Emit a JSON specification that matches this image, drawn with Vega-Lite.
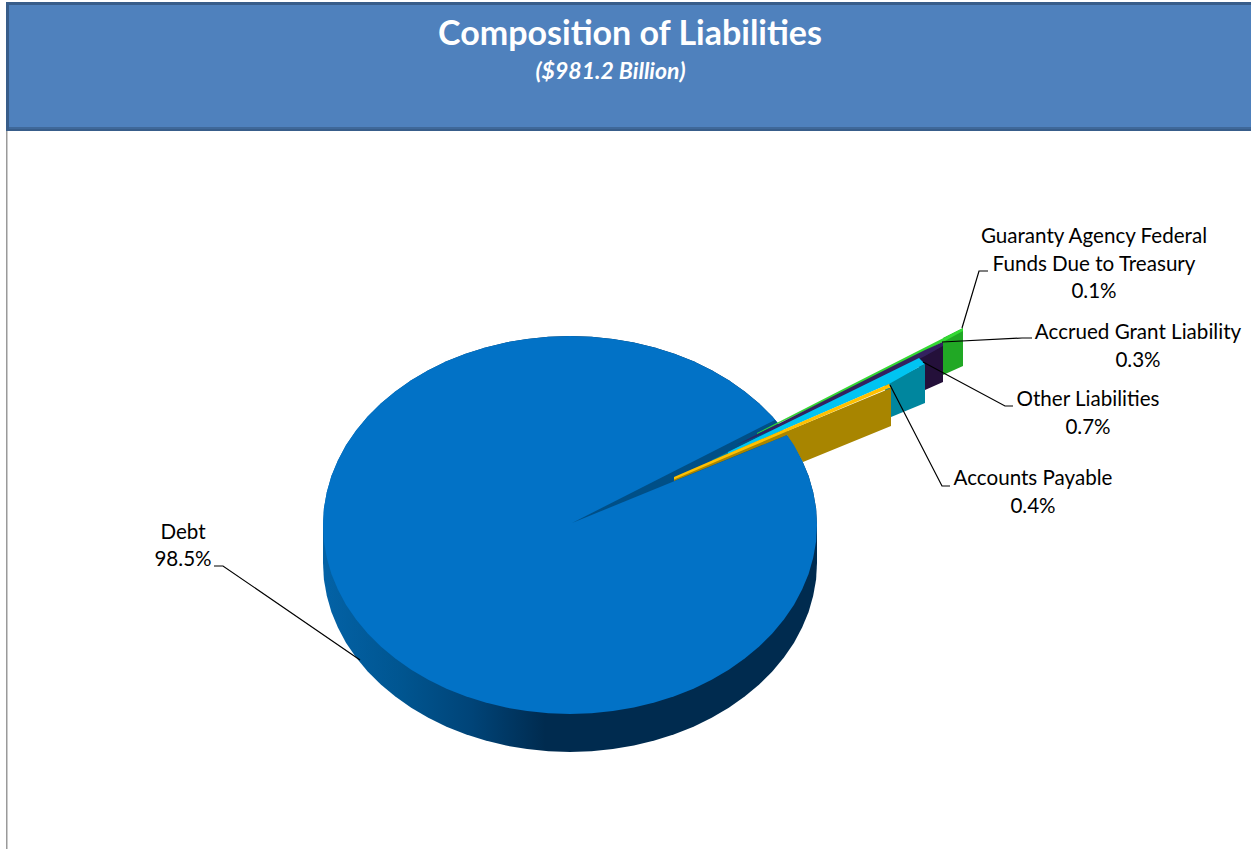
{
  "$schema": "https://vega.github.io/schema/vega-lite/v6.json",
  "width": 1251,
  "height": 849,
  "padding": 0,
  "autosize": {"type": "fit", "contains": "padding"},
  "background": "#ffffff",
  "view": {"stroke": null},
  "datasets": {
    "panels": [
      {"part": "frame", "x": 6, "x2": 1251, "y": 2, "y2": 131},
      {"part": "sill", "x": 9, "x2": 1251, "y": 127, "y2": 129},
      {"part": "banner", "x": 9, "x2": 1251, "y": 5, "y2": 127},
      {"part": "edge", "x": 6, "x2": 7.5, "y": 131, "y2": 849}
    ],
    "disc": [
      {"x": 323, "upper": 525, "lower": 525, "rim": 563},
      {"x": 323.9, "upper": 508.5, "lower": 541.5, "rim": 579.5},
      {"x": 326.8, "upper": 492.2, "lower": 557.8, "rim": 595.8},
      {"x": 331.4, "upper": 476.1, "lower": 573.9, "rim": 611.9},
      {"x": 337.9, "upper": 460.4, "lower": 589.6, "rim": 627.6},
      {"x": 346.1, "upper": 445.1, "lower": 604.9, "rim": 642.9},
      {"x": 356.1, "upper": 430.5, "lower": 619.5, "rim": 657.5},
      {"x": 367.7, "upper": 416.6, "lower": 633.4, "rim": 671.4},
      {"x": 380.8, "upper": 403.5, "lower": 646.5, "rim": 684.5},
      {"x": 395.3, "upper": 391.4, "lower": 658.6, "rim": 696.6},
      {"x": 411.2, "upper": 380.2, "lower": 669.8, "rim": 707.8},
      {"x": 428.3, "upper": 370.2, "lower": 679.8, "rim": 717.8},
      {"x": 446.5, "upper": 361.3, "lower": 688.7, "rim": 726.7},
      {"x": 465.6, "upper": 353.7, "lower": 696.3, "rim": 734.3},
      {"x": 485.5, "upper": 347.4, "lower": 702.6, "rim": 740.6},
      {"x": 506.1, "upper": 342.4, "lower": 707.6, "rim": 745.6},
      {"x": 527.1, "upper": 338.9, "lower": 711.1, "rim": 749.1},
      {"x": 548.5, "upper": 336.7, "lower": 713.3, "rim": 751.3},
      {"x": 570, "upper": 336, "lower": 714, "rim": 752},
      {"x": 591.5, "upper": 336.7, "lower": 713.3, "rim": 751.3},
      {"x": 612.9, "upper": 338.9, "lower": 711.1, "rim": 749.1},
      {"x": 633.9, "upper": 342.4, "lower": 707.6, "rim": 745.6},
      {"x": 654.5, "upper": 347.4, "lower": 702.6, "rim": 740.6},
      {"x": 674.4, "upper": 353.7, "lower": 696.3, "rim": 734.3},
      {"x": 693.5, "upper": 361.3, "lower": 688.7, "rim": 726.7},
      {"x": 711.7, "upper": 370.2, "lower": 679.8, "rim": 717.8},
      {"x": 728.8, "upper": 380.2, "lower": 669.8, "rim": 707.8},
      {"x": 744.7, "upper": 391.4, "lower": 658.6, "rim": 696.6},
      {"x": 759.2, "upper": 403.5, "lower": 646.5, "rim": 684.5},
      {"x": 772.3, "upper": 416.6, "lower": 633.4, "rim": 671.4},
      {"x": 783.9, "upper": 430.5, "lower": 619.5, "rim": 657.5},
      {"x": 793.9, "upper": 445.1, "lower": 604.9, "rim": 642.9},
      {"x": 802.1, "upper": 460.4, "lower": 589.6, "rim": 627.6},
      {"x": 808.6, "upper": 476.1, "lower": 573.9, "rim": 611.9},
      {"x": 813.2, "upper": 492.2, "lower": 557.8, "rim": 595.8},
      {"x": 816.1, "upper": 508.5, "lower": 541.5, "rim": 579.5},
      {"x": 817, "upper": 525, "lower": 525, "rim": 563}
    ],
    "slices": [
      {"part": "Guaranty wall", "x": 943, "upper": 338, "lower": 375},
      {"part": "Guaranty wall", "x": 963, "upper": 328, "lower": 366},
      {"part": "Accrued wall", "x": 919, "upper": 354, "lower": 393},
      {"part": "Accrued wall", "x": 925, "upper": 351, "lower": 390},
      {"part": "Accrued wall", "x": 943, "upper": 342, "lower": 382},
      {"part": "Other wall", "x": 885, "upper": 384, "lower": 419.5},
      {"part": "Other wall", "x": 925, "upper": 364, "lower": 403},
      {"part": "Payable wall", "x": 787, "upper": 431, "lower": 435},
      {"part": "Payable wall", "x": 803, "upper": 424.4, "lower": 462},
      {"part": "Payable wall", "x": 891, "upper": 388, "lower": 426},
      {"part": "Guaranty top", "x": 757, "upper": 433, "lower": 434},
      {"part": "Guaranty top", "x": 850, "upper": 385.6, "lower": 389},
      {"part": "Guaranty top", "x": 943, "upper": 338.2, "lower": 342},
      {"part": "Guaranty top", "x": 963, "upper": 328, "lower": 331},
      {"part": "Accrued top", "x": 736, "upper": 445, "lower": 445},
      {"part": "Accrued top", "x": 787, "upper": 419.4, "lower": 424},
      {"part": "Accrued top", "x": 889, "upper": 368.1, "lower": 374},
      {"part": "Accrued top", "x": 925, "upper": 350, "lower": 356},
      {"part": "Accrued top", "x": 943, "upper": 342, "lower": 346},
      {"part": "Other tip", "x": 712, "upper": 460, "lower": 461},
      {"part": "Other tip", "x": 760, "upper": 436.3, "lower": 440.5},
      {"part": "Other top", "x": 728, "upper": 452.1, "lower": 454},
      {"part": "Other top", "x": 889, "upper": 372.8, "lower": 384},
      {"part": "Other top", "x": 919, "upper": 358, "lower": 367},
      {"part": "Other top", "x": 925, "upper": 364, "lower": 364},
      {"part": "Payable sliver", "x": 674, "upper": 478, "lower": 481},
      {"part": "Payable sliver", "x": 787, "upper": 430, "lower": 435},
      {"part": "Payable top", "x": 674, "upper": 477, "lower": 479.5},
      {"part": "Payable top", "x": 889, "upper": 384, "lower": 388},
      {"part": "Payable top", "x": 891, "upper": 388, "lower": 388}
    ],
    "gap": [
      {"x": 572, "upper": 523, "lower": 523},
      {"x": 775, "upper": 420, "lower": 440},
      {"x": 787, "upper": 435, "lower": 435}
    ],
    "leaders": [
      {"category": "Debt", "step": 1, "x": 214, "y": 566},
      {"category": "Debt", "step": 2, "x": 223, "y": 566},
      {"category": "Debt", "step": 3, "x": 360, "y": 660},
      {"category": "Guaranty", "step": 1, "x": 988, "y": 271},
      {"category": "Guaranty", "step": 2, "x": 979, "y": 271},
      {"category": "Guaranty", "step": 3, "x": 962, "y": 328},
      {"category": "Accrued", "step": 1, "x": 1032, "y": 338},
      {"category": "Accrued", "step": 2, "x": 1022, "y": 338},
      {"category": "Accrued", "step": 3, "x": 942, "y": 342},
      {"category": "Other", "step": 1, "x": 1013, "y": 406},
      {"category": "Other", "step": 2, "x": 1005, "y": 406},
      {"category": "Other", "step": 3, "x": 923, "y": 362},
      {"category": "Payable", "step": 1, "x": 950, "y": 486},
      {"category": "Payable", "step": 2, "x": 942, "y": 486},
      {"category": "Payable", "step": 3, "x": 890, "y": 385}
    ],
    "labels": [
      {"text": "Guaranty Agency Federal", "x": 1094, "y": 237},
      {"text": "Funds Due to Treasury", "x": 1094, "y": 265},
      {"text": "0.1%", "x": 1094, "y": 292},
      {"text": "Accrued Grant Liability", "x": 1138, "y": 333},
      {"text": "0.3%", "x": 1138, "y": 361},
      {"text": "Other Liabilities", "x": 1088, "y": 400},
      {"text": "0.7%", "x": 1088, "y": 428},
      {"text": "Accounts Payable", "x": 1033, "y": 479},
      {"text": "0.4%", "x": 1033, "y": 507},
      {"text": "Debt", "x": 183, "y": 533},
      {"text": "98.5%", "x": 183, "y": 560}
    ],
    "heading": [{"text": "Composition of Liabilities", "x": 630, "y": 35}],
    "subheading": [{"text": "($981.2 Billion)", "x": 610.5, "y": 72}]
  },
  "layer": [
    {
      "data": {"name": "panels"},
      "mark": {"type": "rect"},
      "encoding": {
        "x": {"field": "x", "type": "quantitative", "scale": {"domain": [0, 1251], "nice": false, "zero": false}, "axis": null},
        "x2": {"field": "x2"},
        "y": {"field": "y", "type": "quantitative", "scale": {"domain": [849, 0], "nice": false, "zero": false}, "axis": null},
        "y2": {"field": "y2"},
        "color": {"field": "part", "type": "nominal", "legend": null, "sort": null,
          "scale": {"domain": ["frame", "sill", "banner", "edge"], "range": ["#385d8a", "#3f6899", "#4f81bd", "#9a9a9a"]}}
      }
    },
    {
      "data": {"name": "disc"},
      "mark": {"type": "area", "orient": "vertical",
        "color": {"gradient": "linear", "x1": 0, "x2": 1, "y1": 0, "y2": 0,
          "stops": [
            {"offset": 0, "color": "#0362a6"},
            {"offset": 0.16, "color": "#005590"},
            {"offset": 0.3, "color": "#004478"},
            {"offset": 0.45, "color": "#002b4f"},
            {"offset": 1, "color": "#002b4f"}
          ]}},
      "encoding": {
        "x": {"field": "x", "type": "quantitative", "scale": {"domain": [0, 1251], "nice": false, "zero": false}, "axis": null},
        "y": {"field": "upper", "type": "quantitative", "stack": null, "scale": {"domain": [849, 0], "nice": false, "zero": false}, "axis": null},
        "y2": {"field": "rim"}
      }
    },
    {
      "data": {"name": "slices"},
      "transform": [{"filter": "datum.part === 'Guaranty wall'"}],
      "mark": {"type": "area", "orient": "vertical", "color": "#21a825"},
      "encoding": {
        "x": {"field": "x", "type": "quantitative", "scale": {"domain": [0, 1251], "nice": false, "zero": false}, "axis": null},
        "y": {"field": "upper", "type": "quantitative", "stack": null, "scale": {"domain": [849, 0], "nice": false, "zero": false}, "axis": null},
        "y2": {"field": "lower"}
      }
    },
    {
      "data": {"name": "slices"},
      "transform": [{"filter": "datum.part === 'Accrued wall'"}],
      "mark": {"type": "area", "orient": "vertical", "color": "#24103a"},
      "encoding": {
        "x": {"field": "x", "type": "quantitative", "scale": {"domain": [0, 1251], "nice": false, "zero": false}, "axis": null},
        "y": {"field": "upper", "type": "quantitative", "stack": null, "scale": {"domain": [849, 0], "nice": false, "zero": false}, "axis": null},
        "y2": {"field": "lower"}
      }
    },
    {
      "data": {"name": "slices"},
      "transform": [{"filter": "datum.part === 'Other wall'"}],
      "mark": {"type": "area", "orient": "vertical", "color": "#00869e"},
      "encoding": {
        "x": {"field": "x", "type": "quantitative", "scale": {"domain": [0, 1251], "nice": false, "zero": false}, "axis": null},
        "y": {"field": "upper", "type": "quantitative", "stack": null, "scale": {"domain": [849, 0], "nice": false, "zero": false}, "axis": null},
        "y2": {"field": "lower"}
      }
    },
    {
      "data": {"name": "slices"},
      "transform": [{"filter": "datum.part === 'Payable wall'"}],
      "mark": {"type": "area", "orient": "vertical", "color": "#a88500"},
      "encoding": {
        "x": {"field": "x", "type": "quantitative", "scale": {"domain": [0, 1251], "nice": false, "zero": false}, "axis": null},
        "y": {"field": "upper", "type": "quantitative", "stack": null, "scale": {"domain": [849, 0], "nice": false, "zero": false}, "axis": null},
        "y2": {"field": "lower"}
      }
    },
    {
      "data": {"name": "disc"},
      "mark": {"type": "area", "orient": "vertical", "color": "#0272c6"},
      "encoding": {
        "x": {"field": "x", "type": "quantitative", "scale": {"domain": [0, 1251], "nice": false, "zero": false}, "axis": null},
        "y": {"field": "upper", "type": "quantitative", "stack": null, "scale": {"domain": [849, 0], "nice": false, "zero": false}, "axis": null},
        "y2": {"field": "lower"}
      }
    },
    {
      "data": {"name": "gap"},
      "mark": {"type": "area", "orient": "vertical", "color": "#004f87"},
      "encoding": {
        "x": {"field": "x", "type": "quantitative", "scale": {"domain": [0, 1251], "nice": false, "zero": false}, "axis": null},
        "y": {"field": "upper", "type": "quantitative", "stack": null, "scale": {"domain": [849, 0], "nice": false, "zero": false}, "axis": null},
        "y2": {"field": "lower"}
      }
    },
    {
      "data": {"name": "slices"},
      "transform": [{"filter": "datum.part === 'Guaranty top'"}],
      "mark": {"type": "area", "orient": "vertical", "color": "#33d933"},
      "encoding": {
        "x": {"field": "x", "type": "quantitative", "scale": {"domain": [0, 1251], "nice": false, "zero": false}, "axis": null},
        "y": {"field": "upper", "type": "quantitative", "stack": null, "scale": {"domain": [849, 0], "nice": false, "zero": false}, "axis": null},
        "y2": {"field": "lower"}
      }
    },
    {
      "data": {"name": "slices"},
      "transform": [{"filter": "datum.part === 'Accrued top'"}],
      "mark": {"type": "area", "orient": "vertical", "color": "#33215f"},
      "encoding": {
        "x": {"field": "x", "type": "quantitative", "scale": {"domain": [0, 1251], "nice": false, "zero": false}, "axis": null},
        "y": {"field": "upper", "type": "quantitative", "stack": null, "scale": {"domain": [849, 0], "nice": false, "zero": false}, "axis": null},
        "y2": {"field": "lower"}
      }
    },
    {
      "data": {"name": "slices"},
      "transform": [{"filter": "datum.part === 'Other tip'"}],
      "mark": {"type": "area", "orient": "vertical", "color": "#00869e"},
      "encoding": {
        "x": {"field": "x", "type": "quantitative", "scale": {"domain": [0, 1251], "nice": false, "zero": false}, "axis": null},
        "y": {"field": "upper", "type": "quantitative", "stack": null, "scale": {"domain": [849, 0], "nice": false, "zero": false}, "axis": null},
        "y2": {"field": "lower"}
      }
    },
    {
      "data": {"name": "slices"},
      "transform": [{"filter": "datum.part === 'Other top'"}],
      "mark": {"type": "area", "orient": "vertical", "color": "#00c4f2"},
      "encoding": {
        "x": {"field": "x", "type": "quantitative", "scale": {"domain": [0, 1251], "nice": false, "zero": false}, "axis": null},
        "y": {"field": "upper", "type": "quantitative", "stack": null, "scale": {"domain": [849, 0], "nice": false, "zero": false}, "axis": null},
        "y2": {"field": "lower"}
      }
    },
    {
      "data": {"name": "slices"},
      "transform": [{"filter": "datum.part === 'Payable sliver'"}],
      "mark": {"type": "area", "orient": "vertical", "color": "#a88500"},
      "encoding": {
        "x": {"field": "x", "type": "quantitative", "scale": {"domain": [0, 1251], "nice": false, "zero": false}, "axis": null},
        "y": {"field": "upper", "type": "quantitative", "stack": null, "scale": {"domain": [849, 0], "nice": false, "zero": false}, "axis": null},
        "y2": {"field": "lower"}
      }
    },
    {
      "data": {"name": "slices"},
      "transform": [{"filter": "datum.part === 'Payable top'"}],
      "mark": {"type": "area", "orient": "vertical", "color": "#ffc000"},
      "encoding": {
        "x": {"field": "x", "type": "quantitative", "scale": {"domain": [0, 1251], "nice": false, "zero": false}, "axis": null},
        "y": {"field": "upper", "type": "quantitative", "stack": null, "scale": {"domain": [849, 0], "nice": false, "zero": false}, "axis": null},
        "y2": {"field": "lower"}
      }
    },
    {
      "data": {"name": "leaders"},
      "mark": {"type": "line", "color": "#000000", "strokeWidth": 1.2},
      "encoding": {
        "x": {"field": "x", "type": "quantitative", "scale": {"domain": [0, 1251], "nice": false, "zero": false}, "axis": null},
        "y": {"field": "y", "type": "quantitative", "scale": {"domain": [849, 0], "nice": false, "zero": false}, "axis": null},
        "detail": {"field": "category"},
        "order": {"field": "step", "type": "quantitative"}
      }
    },
    {
      "data": {"name": "labels"},
      "mark": {"type": "text", "font": "Lato", "fontSize": 20.6, "color": "#000000", "align": "center", "baseline": "middle"},
      "encoding": {
        "x": {"field": "x", "type": "quantitative", "scale": {"domain": [0, 1251], "nice": false, "zero": false}, "axis": null},
        "y": {"field": "y", "type": "quantitative", "scale": {"domain": [849, 0], "nice": false, "zero": false}, "axis": null},
        "text": {"field": "text"}
      }
    },
    {
      "data": {"name": "heading"},
      "mark": {"type": "text", "font": "Lato", "fontSize": 34, "fontWeight": "bold", "color": "#ffffff", "align": "center", "baseline": "middle"},
      "encoding": {
        "x": {"field": "x", "type": "quantitative", "scale": {"domain": [0, 1251], "nice": false, "zero": false}, "axis": null},
        "y": {"field": "y", "type": "quantitative", "scale": {"domain": [849, 0], "nice": false, "zero": false}, "axis": null},
        "text": {"field": "text"}
      }
    },
    {
      "data": {"name": "subheading"},
      "mark": {"type": "text", "font": "Lato", "fontSize": 23, "fontWeight": "bold", "fontStyle": "italic", "color": "#ffffff", "align": "center", "baseline": "middle"},
      "encoding": {
        "x": {"field": "x", "type": "quantitative", "scale": {"domain": [0, 1251], "nice": false, "zero": false}, "axis": null},
        "y": {"field": "y", "type": "quantitative", "scale": {"domain": [849, 0], "nice": false, "zero": false}, "axis": null},
        "text": {"field": "text"}
      }
    }
  ]
}
